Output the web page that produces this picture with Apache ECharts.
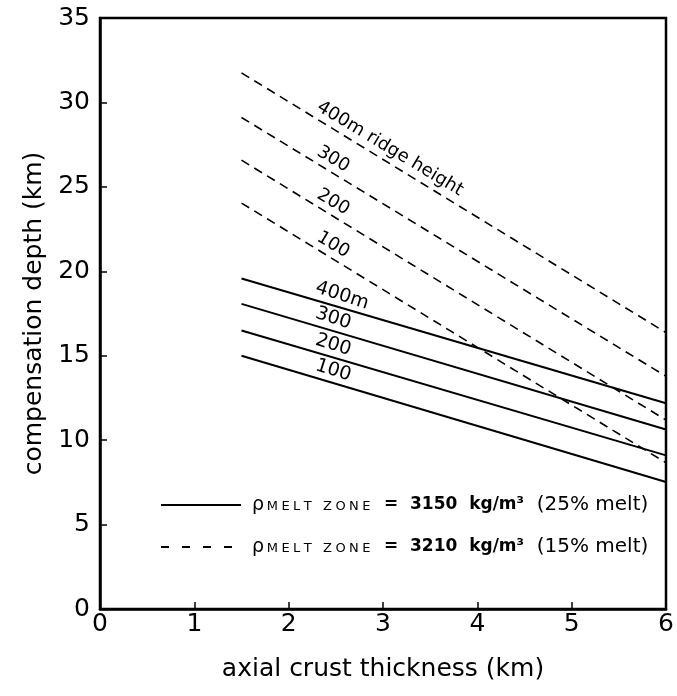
<!DOCTYPE html>
<html><head><meta charset="utf-8">
<script src="https://cdn.jsdelivr.net/npm/echarts@6/dist/echarts.min.js"></script>
<style>html,body{margin:0;padding:0;background:#fff}#c{width:677px;height:696px}</style>
</head><body><div id="c"></div>
<script>
// axial crust thickness (km) at start and end of every curve
const crustX = [1.5, 6];
// compensation depth (km), rho melt zone = 3150 kg/m3 (solid)
const solid100 = [15.0, 7.52];
const solid200 = [16.49, 9.10];
const solid300 = [18.07, 10.63];
const solid400 = [19.57, 12.18];
// compensation depth (km), rho melt zone = 3210 kg/m3 (dashed)
const dashed100 = [24.04, 8.66];
const dashed200 = [26.58, 11.19];
const dashed300 = [29.11, 13.78];
const dashed400 = [31.75, 16.37];
// curve labels
const solidLabels = ['100', '200', '300', '400m'];
const dashedLabels = ['100', '200', '300', '400m ridge height'];
const labelX = 2.25;
const solidLabelY = [13.75, 15.26, 16.83, 18.34];
const dashedLabelY = [21.48, 24.01, 26.55, 29.19];
const legendNames = ['rho3150', 'rho3210'];

const FONT = 'DejaVu Sans';
const chart = echarts.init(document.getElementById('c'));

function mkSeries(vals, name, dashed, label, ly) {
  return {
    type: 'line', name: name, symbol: 'none', silent: true,
    data: crustX.map((x, i) => [x, vals[i]]),
    itemStyle: { color: '#000' },
    lineStyle: { color: '#000', width: dashed ? 1.6 : 2, type: dashed ? [9, 6] : 'solid' },
    markPoint: {
      symbol: 'circle', symbolSize: 0, silent: true,
      data: [{ coord: [labelX, ly] }],
      label: {
        show: true, formatter: label, position: 'inside',
        rotate: dashed ? -31 : -18, align: 'left', verticalAlign: 'bottom',
        offset: [0, -3],
        color: '#000', fontFamily: FONT, fontSize: dashed ? 18 : 19
      }
    }
  };
}
const solids = [solid100, solid200, solid300, solid400];
const dashes = [dashed100, dashed200, dashed300, dashed400];
const series = [];
solids.forEach((v, i) => series.push(mkSeries(v, legendNames[0], false, solidLabels[i], solidLabelY[i])));
dashes.forEach((v, i) => series.push(mkSeries(v, legendNames[1], true, dashedLabels[i], dashedLabelY[i])));

const sc = 'MELT ZONE'.split('').map(c => c === ' ' ? '{gap| }' : '{sc|' + c + '}').join('');
const legendText = {
  rho3150: '{rho|ρ}' + sc + '{b|  =  3150  kg/m³}{n|  (25% melt)}',
  rho3210: '{rho|ρ}' + sc + '{b|  =  3210  kg/m³}{n|  (15% melt)}'
};

chart.setOption({
  backgroundColor: '#fff',
  animation: false,
  grid: { left: 100, right: 11, top: 18, bottom: 87, show: true, borderColor: '#000', borderWidth: 2.5 },
  xAxis: {
    type: 'value', min: 0, max: 6, interval: 1,
    name: 'axial crust thickness (km)', nameLocation: 'middle', nameGap: 48,
    nameTextStyle: { fontFamily: FONT, fontSize: 25, color: '#000' },
    axisLine: { lineStyle: { color: '#000', width: 2.5 } },
    axisTick: { inside: true, length: 7, lineStyle: { color: '#000', width: 1.5 } },
    axisLabel: { fontFamily: FONT, fontSize: 25, color: '#000', margin: 3 },
    splitLine: { show: false }
  },
  yAxis: {
    type: 'value', min: 0, max: 35, interval: 5,
    name: 'compensation depth (km)', nameLocation: 'middle', nameGap: 52,
    nameTextStyle: { fontFamily: FONT, fontSize: 25, color: '#000' },
    axisLine: { show: true, lineStyle: { color: '#000', width: 2.5 } },
    axisTick: { show: true, inside: true, length: 7, lineStyle: { color: '#000', width: 1.5 } },
    axisLabel: { fontFamily: FONT, fontSize: 25, color: '#000', margin: 10 },
    splitLine: { show: false }
  },
  legend: {
    orient: 'vertical', left: 155, top: 490, itemWidth: 80, itemHeight: 14, itemGap: 22,
    selectedMode: false,
    itemStyle: { color: 'rgba(0,0,0,0)', borderWidth: 0, opacity: 0 },
    data: [
      { name: legendNames[0] },
      { name: legendNames[1], lineStyle: { type: [8, 13] } }
    ],
    formatter: n => legendText[n],
    textStyle: {
      color: '#000', fontFamily: FONT, padding: [0, 0, 0, 6],
      rich: {
        rho: { fontSize: 19, fontFamily: FONT, color: '#000', padding: [0, 1, 0, 0] },
        sc: { fontSize: 13, fontFamily: FONT, color: '#000', padding: [4, 1.7, 0, 1.7] },
        gap: { fontSize: 13, fontFamily: FONT, color: '#000', padding: [4, 2, 0, 2] },
        b: { fontSize: 17, fontWeight: 'bold', fontFamily: FONT, color: '#000' },
        n: { fontSize: 20, fontFamily: FONT, color: '#000' }
      }
    }
  },
  series: series
});
</script></body></html>
